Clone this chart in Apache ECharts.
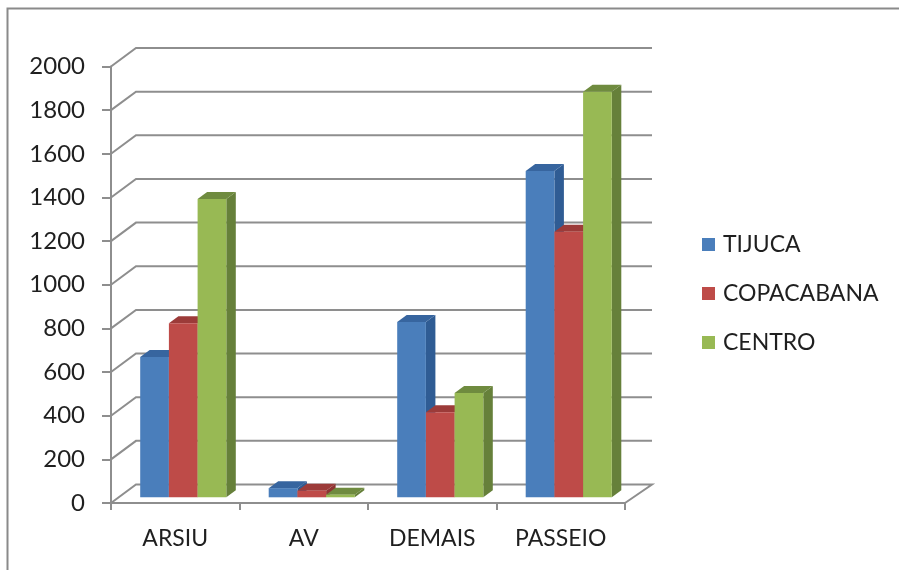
<!DOCTYPE html>
<html>
<head>
<meta charset="utf-8">
<style>html,body{margin:0;padding:0;background:#fff}#chart{width:899px;height:570px}</style>
<script src="https://cdn.jsdelivr.net/npm/echarts@6/dist/echarts.min.js"></script>
</head>
<body>
<div id="chart"></div>
<script>
// Values per district, in category order
var categories = ['ARSIU', 'AV', 'DEMAIS', 'PASSEIO'];
var tijuca = [643, 42, 803, 1495];
var copacabana = [798, 30, 390, 1217];
var centro = [1367, 12, 478, 1858];
var yTicks = [0, 200, 400, 600, 800, 1000, 1200, 1400, 1600, 1800, 2000];

// Front, side and top shades for each series
var shades = [
  { front: '#4a7ebb', side: '#2f5c94', top: '#37659f' },
  { front: '#be4b48', side: '#8c3533', top: '#9c3b39' },
  { front: '#98b954', side: '#66803a', top: '#6f8b3f' }
];
var gridColor = '#8e8e8e';
var textColor = '#1f1f1f';
var fontName = 'Lato';

// Oblique projection used for the fake 3D box
var wallDx = 25, wallDy = -18.5;   // back wall relative to the axis plane
var wallExtra = 2;                 // back wall runs slightly past the projected corner
var planeDx = 8, planeDy = -5.7;   // front face of the bars relative to the axis plane
var depthDx = 9.5, depthDy = -7;   // bar depth
var barWidth = 28.7;

// Back wall lines and floor edges, one polyline per tick value
function renderWall(params, api) {
  var cs = params.coordSys;
  var y = api.coord([0, api.value(0)])[1];
  var x0 = cs.x, x1 = cs.x + cs.width;
  var pts = [[x0, y], [x0 + wallDx, y + wallDy], [x1 + wallDx + wallExtra, y + wallDy]];
  if (api.value(0) === 0) pts.push([x1, y]);
  return {
    type: 'polyline',
    shape: { points: pts },
    style: { stroke: gridColor, lineWidth: 2, fill: null }
  };
}

function barRenderer(seriesIndex) {
  return function (params, api) {
    var c = api.value(0), v = api.value(1);
    var top = api.coord([c, v]);
    var base = api.coord([c, 0]);
    var s = shades[seriesIndex];
    var xl = top[0] + planeDx + (seriesIndex - 1.5) * barWidth;
    var xr = xl + barWidth;
    var yt = top[1] + planeDy;
    var yb = base[1] + planeDy;
    return {
      type: 'group',
      children: [
        { type: 'polygon',
          shape: { points: [[xr, yb], [xr + depthDx, yb + depthDy], [xr + depthDx, yt + depthDy], [xr, yt]] },
          style: { fill: s.side } },
        { type: 'polygon',
          shape: { points: [[xl, yt], [xl + depthDx, yt + depthDy], [xr + depthDx, yt + depthDy], [xr, yt]] },
          style: { fill: s.top } },
        { type: 'rect',
          shape: { x: xl, y: yt, width: barWidth, height: yb - yt },
          style: { fill: s.front } }
      ]
    };
  };
}

function barSeries(name, values, index) {
  return {
    name: name,
    type: 'custom',
    clip: false,
    z: 3 + index,
    itemStyle: { color: shades[index].front },
    encode: { x: 0, y: 1 },
    data: values.map(function (v, i) { return [i, v]; }),
    renderItem: barRenderer(index)
  };
}

var chart = echarts.init(document.getElementById('chart'));
chart.setOption({
  animation: false,
  backgroundColor: '#ffffff',
  textStyle: { fontFamily: fontName },
  graphic: [{
    type: 'polyline',
    silent: true,
    shape: { points: [[7.5, 570], [7.5, 8.5], [899, 8.5]] },
    style: { stroke: '#8a8a8a', lineWidth: 2, fill: null }
  }],
  grid: { left: 111, top: 66.5, width: 514, height: 436.5 },
  legend: {
    orient: 'vertical',
    left: 697,
    top: 228,
    itemWidth: 13,
    itemHeight: 13,
    itemGap: 26,
    icon: 'rect',
    textStyle: { color: textColor, fontSize: 23, fontFamily: fontName, padding: [0, 0, 0, 3] },
    data: ['TIJUCA', 'COPACABANA', 'CENTRO']
  },
  xAxis: {
    type: 'category',
    data: categories,
    boundaryGap: true,
    axisLine: { lineStyle: { color: gridColor, width: 2 } },
    axisTick: { show: true, length: 7, alignWithLabel: false, lineStyle: { color: gridColor, width: 2 } },
    axisLabel: { color: textColor, fontSize: 23, margin: 24, fontFamily: fontName },
    splitLine: { show: false }
  },
  yAxis: {
    type: 'value',
    min: 0,
    max: 2000,
    interval: 200,
    axisLine: { show: true, lineStyle: { color: gridColor, width: 2 } },
    axisTick: { show: true, length: 9, lineStyle: { color: gridColor, width: 2 } },
    axisLabel: {
      color: textColor,
      fontSize: 24,
      margin: 26,
      fontFamily: fontName,
      formatter: function (v) { return String(v); }
    },
    splitLine: { show: false }
  },
  series: [
    {
      type: 'custom',
      name: 'wall',
      silent: true,
      clip: false,
      z: 1,
      encode: { y: 0 },
      data: yTicks.map(function (v) { return [v]; }),
      renderItem: renderWall
    },
    barSeries('TIJUCA', tijuca, 0),
    barSeries('COPACABANA', copacabana, 1),
    barSeries('CENTRO', centro, 2)
  ]
});
</script>
</body>
</html>
